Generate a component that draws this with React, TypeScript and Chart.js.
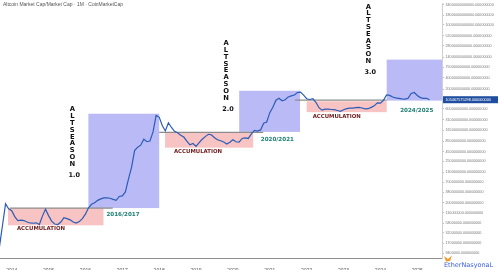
import { useEffect, useRef } from "react";
import { Chart, registerables } from "chart.js";

Chart.register(...registerables);

// Monthly series, starting September 2013 (values in billions of USD)
const START_YEAR = 2013;
const START_MONTH = 8; // 0-based: September
const capBillions = [
  0.0135, 0.0502, 0.188, 0.139, 0.124, 0.0863, 0.0678, 0.0698, 0.0678, 0.062,
  0.0584, 0.0577, 0.0591, 0.0533, 0.0889, 0.135, 0.0916, 0.0658, 0.055, 0.0533,
  0.062, 0.0811, 0.0764, 0.0708, 0.062, 0.0584, 0.0638, 0.0764, 0.1, 0.148,
  0.182, 0.2, 0.232, 0.254, 0.269, 0.269, 0.264, 0.246, 0.232, 0.294,
  0.303, 0.386, 0.841, 1.73, 4.79, 5.9, 6.65, 9.53, 8.2, 8.55,
  14.9, 40.6, 36.7, 22.0, 15.8, 26.0, 19.5, 15.4, 14.2, 12.2,
  10.9, 8.45, 6.78, 7.36, 6.15, 7.73, 9.53, 11.2, 12.9, 12.5,
  10.5, 9.25, 8.71, 8.05, 7.14, 7.96, 9.25, 8.2, 7.96, 10.0,
  10.4, 10.0, 13.2, 16.3, 15.6, 16.8, 25.2, 27.2, 48.1, 66.8,
  102, 115, 98.6, 105, 125, 133, 140, 164, 167, 139,
  112, 107, 113, 90.2, 64.9, 55.8, 59.3, 59.3, 58.2, 57.8,
  54.8, 52.0, 57.5, 61.1, 63.0, 63.0, 64.9, 66.1, 63.7, 60.4,
  61.1, 66.1, 72.6, 87.5, 85.9, 102, 141, 137, 124, 118,
  115, 111, 110, 115, 155, 164, 137, 120, 115, 115,
  105.467575298,
];

const yearTicks = [2014, 2015, 2016, 2017, 2018, 2019, 2020, 2021, 2022, 2023, 2024, 2025];

const priceTicks = [
  34000000000000, 18000000000000, 10000000000000, 5200000000000, 2800000000000,
  1400000000000, 750000000000, 400000000000, 200000000000, 60000000000,
  31000000000, 16500000000, 8500000000, 4500000000, 2500000000, 1300000000,
  700000000, 380000000, 200000000, 110000000, 58000000, 32000000, 17000000, 9400000,
];

const TITLE = "Altcoin Market Cap/Market Cap · 1M · CoinMarketCap";

// annotation regions in data units (years, billions)
const altseasonBoxes = [
  { x0: 2016.08, x1: 2018.0, y0: 0.145, y1: 45 },
  { x0: 2020.17, x1: 2021.82, y0: 14.9, y1: 182 },
  { x0: 2024.17, x1: 2025.7, y0: 100, y1: 1208 },
];
const accumulationBoxes = [
  { x0: 2013.9, x1: 2016.49, y0: 0.0508, y1: 0.145 },
  { x0: 2018.16, x1: 2020.55, y0: 5.72, y1: 14.3 },
  { x0: 2022.0, x1: 2024.17, y0: 49.5, y1: 96 },
];
const resistanceLines = [
  { x0: 2013.95, x1: 2016.74, y: 0.145 },
  { x0: 2018.0, x1: 2020.82, y: 14.5 },
  { x0: 2021.68, x1: 2024.17, y: 103 },
];
const seasonLabels = [
  { word: "ALTSEASON", sub: "1.0", x: 2015.644, y: 58 },
  { word: "ALTSEASON", sub: "2.0", x: 2019.813, y: 3250 },
  { word: "ALTSEASON", sub: "3.0", x: 2023.672, y: 30000 },
];
const periodLabels = [
  { text: "2016/2017", x: 2017.019, y: 0.0955 },
  { text: "2020/2021", x: 2021.204, y: 9.64 },
  { text: "2024/2025", x: 2024.985, y: 54.8 },
];
const accumulationLabels = [
  { text: "ACCUMULATION", x: 2014.795, y: 0.042 },
  { text: "ACCUMULATION", x: 2019.053, y: 4.5 },
  { text: "ACCUMULATION", x: 2022.815, y: 38.3 },
];

const B = 1e9;

export default function App() {
  const ref = useRef<HTMLCanvasElement | null>(null);

  useEffect(() => {
    document.body.style.margin = "0";
    const canvas = ref.current;
    if (!canvas) return;

    const points = capBillions.map((v, i) => ({
      x: START_YEAR + (START_MONTH + i) / 12,
      y: v * B,
    }));
    const lastValue = Math.round(capBillions[capBillions.length - 1] * B);

    const annotations = {
      id: "annotations",
      beforeDatasetsDraw(chart: any) {
        const { ctx, chartArea, scales } = chart;
        const xs = scales.x;
        const ys = scales.y;
        ctx.save();
        ctx.beginPath();
        ctx.rect(chartArea.left, chartArea.top, chartArea.right - chartArea.left, chartArea.bottom - chartArea.top);
        ctx.clip();
        ctx.fillStyle = "#babaf7";
        for (const b of altseasonBoxes) {
          const l = xs.getPixelForValue(b.x0), r = xs.getPixelForValue(b.x1);
          const t = ys.getPixelForValue(b.y1 * B), bo = ys.getPixelForValue(b.y0 * B);
          ctx.fillRect(l, t, r - l, bo - t);
        }
        ctx.fillStyle = "#f7c3c3";
        for (const b of accumulationBoxes) {
          const l = xs.getPixelForValue(b.x0), r = xs.getPixelForValue(b.x1);
          const t = ys.getPixelForValue(b.y1 * B), bo = ys.getPixelForValue(b.y0 * B);
          ctx.fillRect(l, t, r - l, bo - t);
        }
        ctx.strokeStyle = "#8c8c8c";
        ctx.lineWidth = 1.3;
        for (const ln of resistanceLines) {
          const y = ys.getPixelForValue(ln.y * B);
          ctx.beginPath();
          ctx.moveTo(xs.getPixelForValue(ln.x0), y);
          ctx.lineTo(xs.getPixelForValue(ln.x1), y);
          ctx.stroke();
        }
        ctx.restore();
      },
      afterDatasetsDraw(chart: any) {
        const { ctx, scales } = chart;
        const xs = scales.x;
        const ys = scales.y;
        ctx.save();
        ctx.textAlign = "center";
        ctx.textBaseline = "middle";
        ctx.fillStyle = "#111";
        for (const s of seasonLabels) {
          const px = xs.getPixelForValue(s.x);
          const py = ys.getPixelForValue(s.y * B);
          ctx.font = "bold 6.8px 'DejaVu Sans'";
          const letters = s.word.split("");
          letters.forEach((ch, i) => ctx.fillText(ch, px, py + i * 6.8));
          ctx.font = "bold 6.5px 'DejaVu Sans'";
          ctx.fillText(s.sub, px + 2, py + (letters.length - 1) * 6.8 + 11.5);
        }
        ctx.font = "bold 5.6px 'DejaVu Sans'";
        ctx.fillStyle = "#1b7d72";
        for (const p of periodLabels) {
          ctx.fillText(p.text, xs.getPixelForValue(p.x), ys.getPixelForValue(p.y * B));
        }
        ctx.font = "bold 5.4px 'DejaVu Sans'";
        ctx.fillStyle = "#6e1a1a";
        for (const p of accumulationLabels) {
          ctx.fillText(p.text, xs.getPixelForValue(p.x), ys.getPixelForValue(p.y * B));
        }
        ctx.restore();
      },
      afterDraw(chart: any) {
        const { ctx, chartArea, scales } = chart;
        const ys = scales.y;
        ctx.save();
        // title
        ctx.font = "5px 'Liberation Sans'";
        ctx.fillStyle = "#555";
        ctx.textAlign = "left";
        ctx.textBaseline = "middle";
        ctx.fillText(TITLE, 3, 5);
        // current value label
        const y = ys.getPixelForValue(lastValue);
        ctx.fillStyle = "#1f4ea0";
        ctx.fillRect(chartArea.right + 1, y - 3.5, 55, 7);
        ctx.fillStyle = "#fff";
        ctx.font = "3.8px 'Liberation Sans'";
        ctx.fillText(lastValue.toFixed(9), chartArea.right + 3.5, y);
        // watermark
        ctx.fillStyle = "#f39a2b";
        ctx.beginPath();
        ctx.moveTo(444, 256);
        ctx.lineTo(448, 259);
        ctx.lineTo(452, 255.5);
        ctx.lineTo(450, 261);
        ctx.lineTo(446, 261.5);
        ctx.closePath();
        ctx.fill();
        ctx.fillStyle = "#3c5ee0";
        ctx.font = "6.5px 'DejaVu Sans'";
        ctx.textBaseline = "alphabetic";
        ctx.fillText("EtherNasyonaL", 444, 267);
        ctx.restore();
      },
    };

    const chart = new Chart(canvas, {
      type: "line",
      data: {
        datasets: [
          {
            data: points,
            borderColor: "#2b5cb6",
            borderWidth: 1.2,
            pointRadius: 0,
            tension: 0,
            fill: false,
          },
        ],
      },
      options: {
        animation: false,
        responsive: false,
        layout: { padding: 0 },
        plugins: { legend: { display: false }, tooltip: { enabled: false } },
        scales: {
          x: {
            type: "linear",
            min: 2013.683,
            max: 2025.67,
            afterBuildTicks: (s: any) => {
              s.ticks = yearTicks.map((v) => ({ value: v }));
            },
            afterFit: (s: any) => {
              s.height = 12;
            },
            grid: { display: false },
            border: { display: true, color: "#8f8f8f", width: 1 },
            ticks: {
              autoSkip: false,
              maxRotation: 0,
              padding: 2,
              color: "#555",
              font: { size: 5, family: "'Liberation Sans'" },
              callback: (v: any) => String(v),
            },
          },
          y: {
            type: "logarithmic",
            position: "right",
            min: 6.96e6,
            max: 3.62e13,
            afterBuildTicks: (s: any) => {
              s.ticks = priceTicks.map((v) => ({ value: v }));
            },
            afterFit: (s: any) => {
              s.width = 58;
            },
            grid: { drawOnChartArea: false, tickLength: 2, color: "#bbb" },
            border: { display: true, color: "#cfcfcf" },
            ticks: {
              autoSkip: false,
              padding: 1.5,
              color: "#777",
              font: { size: 3.7, family: "'Liberation Sans'" },
              callback: (v: any) => Number(v).toFixed(9),
            },
          },
        },
      },
      plugins: [annotations],
    });

    return () => chart.destroy();
  }, []);

  return (
    <div style={{ width: 500, height: 270, background: "#fff" }}>
      <canvas ref={ref} width={500} height={270} />
    </div>
  );
}
